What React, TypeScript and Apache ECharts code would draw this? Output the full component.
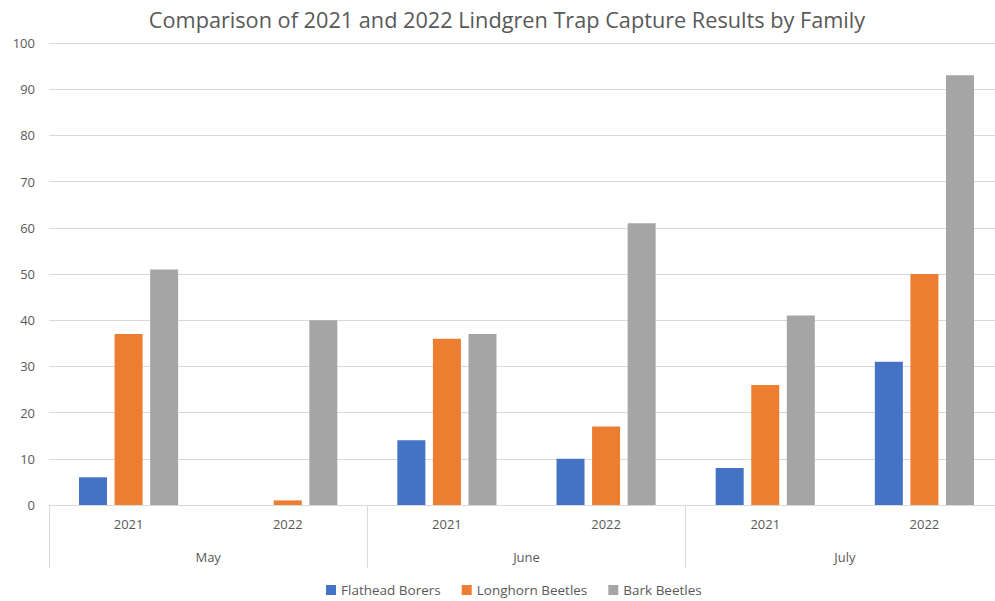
import React, { useEffect, useRef } from "react";
import * as echarts from "echarts";

const months = ["May", "June", "July"];
const years = ["2021", "2022", "2021", "2022", "2021", "2022"];
const flathead = [6, 0, 14, 10, 8, 31];
const longhorn = [37, 1, 36, 17, 26, 50];
const bark = [51, 40, 37, 61, 41, 93];
const yTicks = [0, 100, 10];

const FONT = "'Open Sans', 'Noto Sans', sans-serif";
const TXT = "#595959";

export default function App() {
  const ref = useRef<HTMLDivElement>(null);
  useEffect(() => {
    if (!ref.current) return;
    const chart = echarts.init(ref.current, undefined, { renderer: "svg" });
    const barCommon = { type: "bar" as const, barWidth: 28, barGap: "27%" };
    chart.setOption({
      animation: false,
      title: {
        text: "Comparison of 2021 and 2022 Lindgren Trap Capture Results by Family",
        left: 502,
        textAlign: "center",
        top: 3,
        textStyle: { fontFamily: FONT, fontSize: 21.7, fontWeight: "normal", color: TXT },
      },
      legend: {
        bottom: -1,
        left: 321,
        itemWidth: 10,
        itemHeight: 10,
        itemGap: 21,
        itemStyle: { borderWidth: 0 },
        icon: "rect",
        textStyle: { fontFamily: FONT, fontSize: 13.5, color: TXT },
        data: ["Flathead Borers", "Longhorn Beetles", "Bark Beetles"],
      },
      grid: { left: 49, right: 0, top: 43, bottom: 96, containLabel: false },
      xAxis: [
        {
          type: "category",
          data: years,
          position: "bottom",
          axisLine: { show: true, lineStyle: { color: "#D9D9D9" } },
          axisTick: { show: false },
          axisLabel: { margin: 12, fontFamily: FONT, fontSize: 13, color: TXT },
        },
        {
          type: "category",
          data: months,
          position: "bottom",
          axisLine: { show: false },
          axisTick: { show: true, length: 63, inside: false, lineStyle: { color: "#D9D9D9" } },
          axisLabel: { margin: 45, fontFamily: FONT, fontSize: 13, color: TXT },
        },
      ],
      yAxis: {
        type: "value",
        min: yTicks[0],
        max: yTicks[1],
        interval: yTicks[2],
        axisLine: { show: false },
        axisTick: { show: false },
        splitLine: { lineStyle: { color: "#D9D9D9" } },
        axisLabel: { margin: 14, fontFamily: FONT, fontSize: 13, color: TXT },
      },
      series: [
        { ...barCommon, name: "Flathead Borers", data: flathead, itemStyle: { color: "#4472C4" } },
        { ...barCommon, name: "Longhorn Beetles", data: longhorn, itemStyle: { color: "#ED7D31" } },
        { ...barCommon, name: "Bark Beetles", data: bark, itemStyle: { color: "#A5A5A5" } },
      ],
    });
    return () => chart.dispose();
  }, []);
  return (
    <div style={{ width: 995, height: 601, position: "absolute", left: 0, top: 0, overflow: "hidden", background: "#fff" }}>
      <div ref={ref} style={{ width: 1004, height: 601, position: "absolute", left: 0, top: 0 }} />
    </div>
  );
}
